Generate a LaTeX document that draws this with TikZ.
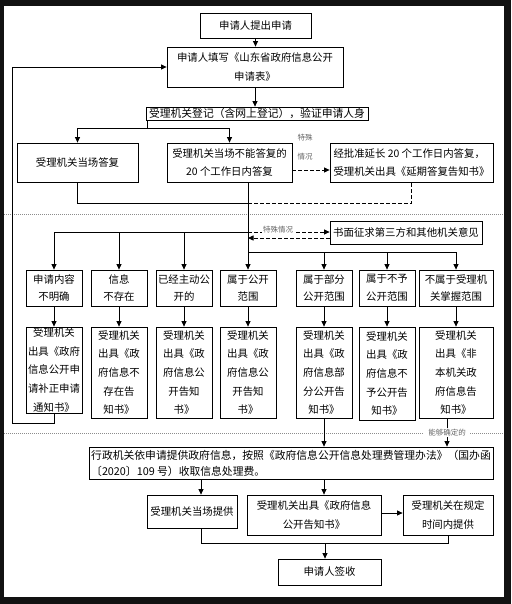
\documentclass[tikz,border=0pt]{standalone}
\usepackage{fontspec}
\setmainfont{Noto Sans CJK SC}
\usetikzlibrary{arrows.meta}
\begin{document}
\begin{tikzpicture}[x=1pt,y=-1pt,
  box/.style={draw=black, line width=0.8pt, inner sep=0pt, align=center, font=\fontsize{10.4pt}{18.5pt}\selectfont},
  rowone/.style={box, minimum width=56pt, minimum height=36pt, font=\fontsize{10.4pt}{17.5pt}\selectfont},
  rowtwo/.style={box, minimum width=56pt, minimum height=91pt, font=\fontsize{10.4pt}{18.7pt}\selectfont},
  arr/.style={line width=0.8pt, -{Triangle[length=5.5pt,width=5pt]}},
  ln/.style={line width=0.8pt},
  dsh/.style={line width=0.8pt, dash pattern=on 3.5pt off 2.5pt},
  dsharr/.style={dsh, -{Triangle[length=5.5pt,width=5pt]}},
  sep/.style={line width=0.6pt, black!45, dash pattern=on 1pt off 1pt},
  note/.style={text=black!60, inner sep=1pt, font=\fontsize{7.5pt}{19pt}\selectfont},
]
\useasboundingbox (0,0) rectangle (511,604);
\fill[black!93] (0,0) rectangle (511,604);
\fill[white] (4,6) rectangle (504,597);

% separators
\draw[sep] (4,214) -- (504,214);
\draw[sep] (4,433) -- (504,433);

% boxes
\node[box, minimum width=111pt, minimum height=25pt] (b1) at (255.5,25.5) {申请人提出申请};
\node[box, minimum width=176pt, minimum height=40pt] (b2) at (255,67) {申请人填写《山东省政府信息公开\\申请表》};
\node[box, minimum width=222pt, minimum height=13pt, font=\fontsize{10.8pt}{13pt}\selectfont] (b3) at (257,113.5) {受理机关登记（含网上登记），验证申请人身};
\node[box, minimum width=121pt, minimum height=39pt] (b4) at (77.5,162.5) {受理机关当场答复};
\node[box, minimum width=125pt, minimum height=39pt] (b5) at (229.5,162.5) {受理机关当场不能答复的\\20 个工作日内答复};
\node[box, minimum width=163pt, minimum height=39pt, align=left] (b6) at (411.5,162.5) {经批准延长 20 个工作日内答复，\\受理机关出具《延期答复告知书》};
\node[box, minimum width=152pt, minimum height=23pt] (b7) at (406,232.5) {书面征求第三方和其他机关意见};

\node[rowone] (r1a) at (54,288) {申请内容\\不明确};
\node[rowone] (r1b) at (119,288) {信息\\不存在};
\node[rowone] (r1c) at (184,288) {已经主动公\\开的};
\node[rowone] (r1d) at (248,288) {属于公开\\范围};
\node[rowone] (r1e) at (324,288) {属于部分\\公开范围};
\node[rowone] (r1f) at (387,288) {属于不予\\公开范围};
\node[rowone, minimum width=74pt] (r1g) at (456,288) {不属于受理机\\关掌握范围};

\node[rowtwo, minimum height=86pt] (r2a) at (54,370) {受理机关\\出具《政府\\信息公开申\\请补正申请\\通知书》};
\node[rowtwo] (r2b) at (119,372.5) {受理机关\\出具《政\\府信息不\\存在告\\知书》};
\node[rowtwo] (r2c) at (184,372.5) {受理机关\\出具《政\\府信息公\\开告知\\书》};
\node[rowtwo] (r2d) at (248,372.5) {受理机关\\出具《政\\府信息公\\开告知\\书》};
\node[rowtwo] (r2e) at (324,372.5) {受理机关\\出具《政\\府信息部\\分公开告\\知书》};
\node[rowtwo, minimum height=93pt] (r2f) at (387,373.5) {受理机关\\出具《政\\府信息不\\予公开告\\知书》};
\node[rowtwo, minimum width=74pt] (r2g) at (456,372.5) {受理机关\\出具《非\\本机关政\\府信息告\\知书》};

\node[box, minimum width=404pt, minimum height=32pt, align=left, font=\fontsize{10.8pt}{16pt}\selectfont] (b8) at (291,463) {行政机关依申请提供政府信息，按照《政府信息公开信息处理费管理办法》（国办函\\〔2020〕109 号）收取信息处理费。};
\node[box, minimum width=90pt, minimum height=33pt] (b9) at (192,511.5) {受理机关当场提供};
\node[box, minimum width=134pt, minimum height=40pt] (b10) at (314,515) {受理机关出具《政府信息\\公开告知书》};
\node[box, minimum width=90pt, minimum height=40pt] (b11) at (448,515) {受理机关在规定\\时间内提供};
\node[box, minimum width=103pt, minimum height=26pt] (b12) at (329.5,572) {申请人签收};

% junction coordinates
\coordinate (j1) at (147,128);
\coordinate (j2) at (248,203);
\coordinate (j3) at (248,232);
\coordinate (j4) at (248,252);
\coordinate (c1) at (12,423);
\coordinate (c2) at (447,433);
\coordinate (c3) at (201,543);
\coordinate (j5) at (325,543);

% connectors
\draw[arr] (b1.south) -- (b1.south |- b2.north);
\draw[arr] (b2.south) -- (b2.south |- b3.north);
\draw[ln] (b3.south -| j1) -- (j1);
\draw[arr] (j1) -| (b4.north);
\draw[arr] (j1) -| (b5.north);
\draw[dsharr] ([yshift=-7.5pt]b5.east) -- ([yshift=-7.5pt]b6.west);
\node[note, align=center] (n1) at (305,147.5) {特殊\\情况};
\draw[ln] (b4.south) |- (j2);
\draw[dsh] (j2) -| (b6.south);
\draw[arr] (b5.south -| r1d.north) -- (r1d.north);

\draw[arr] (j3) -| (r1a.north);
\draw[arr] (j3 -| r1b.north) -- (r1b.north);
\draw[arr] (j3 -| r1c.north) -- (r1c.north);
\draw[arr] (j4) -| (r1g.north);
\draw[arr] (j4 -| r1e.north) -- (r1e.north);
\draw[arr] (j4 -| r1f.north) -- (r1f.north);

\draw[dsharr] (j3) -- node[note, fill=white, pos=0.37, yshift=2pt] (n2) {特殊情况} (j3 -| b7.west);
\draw[dsharr] ([yshift=-5.5pt]b7.west) -- ([yshift=-5.5pt]b7.west -| j3);

\foreach \k in {a,b,c,d,e,f,g}
  \draw[arr] (r1\k.south) -- (r1\k.south |- r2\k.north);

\draw[arr] (r2a.south) |- (c1) |- (b2.west);
\draw[arr] (r2e.south) -- (r2e.south |- b8.north);
\draw[arr] (r2g.south -| c2) -- node[note, fill=white, inner xsep=4pt] (n3) {能够确定的} (b8.north -| c2);

\draw[arr] (b8.south -| c3) -- (b9.north -| c3);
\draw[arr] (b8.south -| r2e.south) -- (b10.north -| r2e.south);
\draw[arr] ([yshift=2pt]b10.east) -- ([yshift=2pt]b10.east -| b11.west);
\draw[ln] (b9.south -| c3) -- (c3) -- (c3 -| b11.south) -- (b11.south);
\draw[arr] (j5) -- (b12.north -| j5);
\end{tikzpicture}
\end{document}
